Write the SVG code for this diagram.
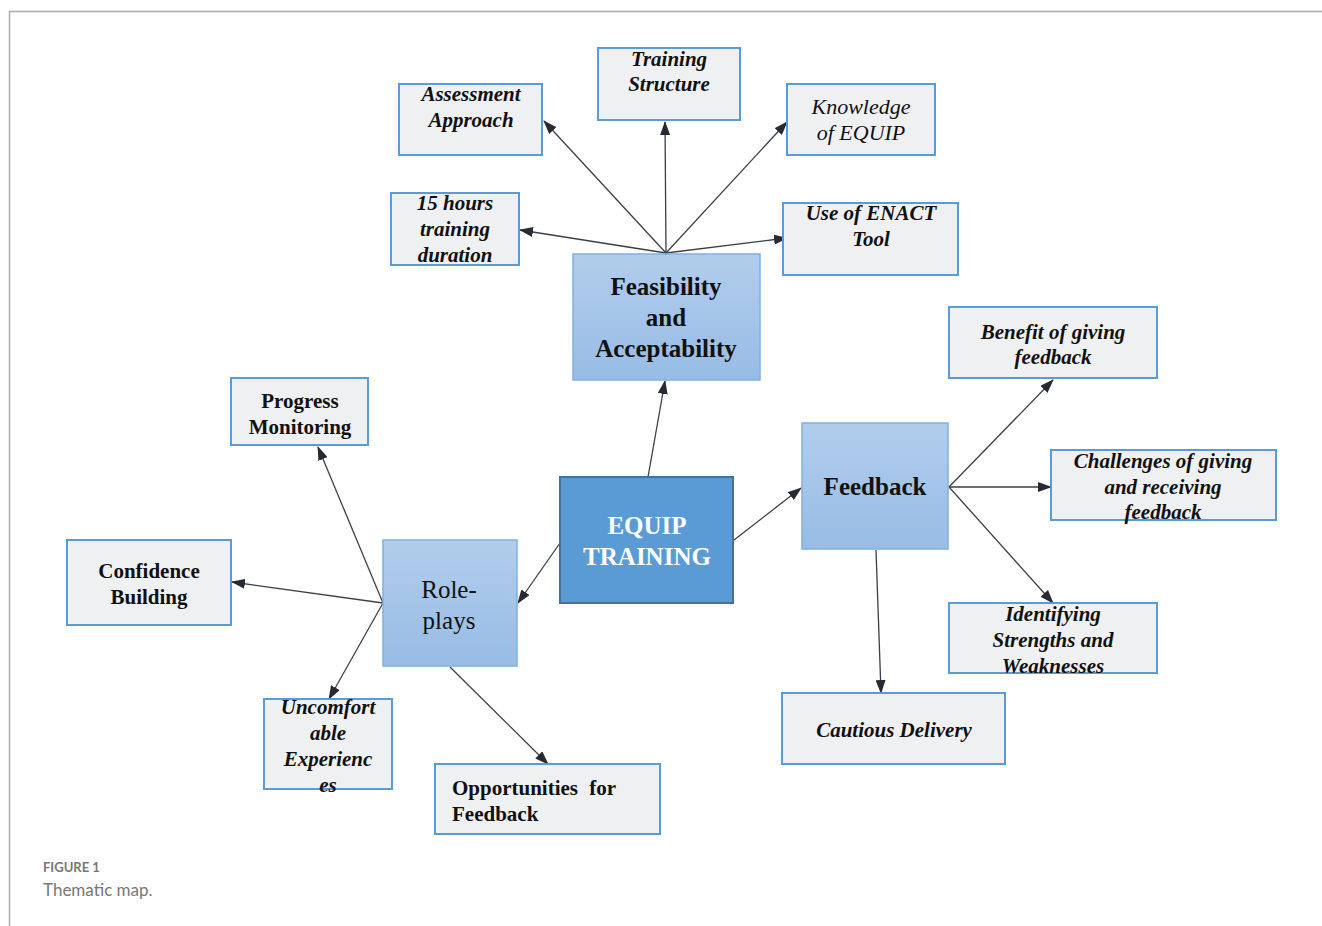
<svg xmlns="http://www.w3.org/2000/svg" width="1322" height="926" viewBox="0 0 1322 926">
<defs>
<linearGradient id="g" x1="0" y1="0" x2="0" y2="1"><stop offset="0" stop-color="#b1cdec"/><stop offset="1" stop-color="#98bce5"/></linearGradient>
<marker id="ah" viewBox="0 0 14 10" refX="13" refY="5" markerWidth="14" markerHeight="10" markerUnits="userSpaceOnUse" orient="auto"><path d="M0,0 L14,5 L0,10 z" fill="#262b33"/></marker>
<style>
.leaf{fill:#eff0f2;stroke:#5b9bd5;stroke-width:2}
.mid{fill:url(#g);stroke:#7fb0e0;stroke-width:1.5}
.t{font-family:"Liberation Serif",serif;font-size:21px;fill:#111;text-anchor:middle}
.bi{font-weight:bold;font-style:italic}
.b{font-weight:bold}
.i{font-style:italic;font-size:22px}
.big{font-size:25px}
.c line{stroke:#3a3f46;stroke-width:1.3;marker-end:url(#ah)}
.cap{font-family:Lato,"Open Sans",sans-serif;fill:#777}
</style>
</defs>
<rect width="1322" height="926" fill="#fff"/>
<path d="M9.5,926 V11.5 H1322" fill="none" stroke="#aaa" stroke-width="1.5"/>
<g class="c" id="connectors">
<line x1="666" y1="253" x2="544" y2="121"/>
<line x1="666" y1="253" x2="665" y2="122"/>
<line x1="666" y1="253" x2="787" y2="122"/>
<line x1="666" y1="253" x2="520" y2="230"/>
<line x1="666" y1="253" x2="787" y2="238"/>
<line x1="648" y1="477" x2="665" y2="381"/>
<line x1="734" y1="540" x2="801" y2="488"/>
<line x1="560" y1="543" x2="518" y2="603"/>
<line x1="949" y1="487" x2="1053" y2="380"/>
<line x1="949" y1="487" x2="1051" y2="487"/>
<line x1="949" y1="487" x2="1053" y2="603"/>
<line x1="876" y1="550" x2="881" y2="693"/>
<line x1="383" y1="603" x2="318" y2="447"/>
<line x1="383" y1="603" x2="232" y2="582"/>
<line x1="383" y1="603" x2="329" y2="699"/>
<line x1="450" y1="667" x2="548" y2="764"/>
</g>
<g id="assessment"><rect class="leaf" x="399" y="84" width="143" height="71"/><text class="t bi" x="471" y="101">Assessment</text><text class="t bi" x="471" y="127">Approach</text></g>
<g id="training-structure"><rect class="leaf" x="598" y="48" width="142" height="72"/><text class="t bi" x="669" y="66">Training</text><text class="t bi" x="669" y="91">Structure</text></g>
<g id="knowledge"><rect class="leaf" x="787" y="84" width="148" height="71"/><text class="t i" x="861" y="114">Knowledge</text><text class="t i" x="861" y="140">of EQUIP</text></g>
<g id="hours"><rect class="leaf" x="391" y="193" width="128" height="72"/><text class="t bi" x="455" y="210">15 hours</text><text class="t bi" x="455" y="236">training</text><text class="t bi" x="455" y="262">duration</text></g>
<g id="enact"><rect class="leaf" x="783" y="203" width="175" height="72"/><text class="t bi" x="871" y="220">Use of ENACT</text><text class="t bi" x="871" y="246">Tool</text></g>
<g id="feasibility"><rect class="mid" x="573" y="254" width="187" height="126"/><text class="t b big" x="666" y="295">Feasibility</text><text class="t b big" x="666" y="326">and</text><text class="t b big" x="666" y="357">Acceptability</text></g>
<g id="equip"><rect x="560" y="477" width="173" height="126" fill="#5b9bd5" stroke="#41719c" stroke-width="2"/><text class="t b big" x="647" y="534" style="fill:#fff">EQUIP</text><text class="t b big" x="647" y="565" style="fill:#fff">TRAINING</text></g>
<g id="feedback"><rect class="mid" x="802" y="423" width="146" height="126"/><text class="t b big" x="875" y="495">Feedback</text></g>
<g id="roleplays"><rect class="mid" x="383" y="540" width="134" height="126"/><text class="t big" x="449" y="598">Role-</text><text class="t big" x="449" y="629">plays</text></g>
<g id="progress"><rect class="leaf" x="231" y="378" width="137" height="67"/><text class="t b" x="300" y="408">Progress</text><text class="t b" x="300" y="434">Monitoring</text></g>
<g id="confidence"><rect class="leaf" x="67" y="540" width="164" height="85"/><text class="t b" x="149" y="578">Confidence</text><text class="t b" x="149" y="604">Building</text></g>
<g id="uncomfortable"><rect class="leaf" x="264" y="699" width="128" height="90"/><text class="t bi" x="328" y="714">Uncomfort</text><text class="t bi" x="328" y="740">able</text><text class="t bi" x="328" y="766">Experienc</text><text class="t bi" x="328" y="792">es</text></g>
<g id="opportunities"><rect class="leaf" x="435" y="764" width="225" height="70"/><text class="t b" x="452" y="795" style="text-anchor:start" word-spacing="6">Opportunities for</text><text class="t b" x="452" y="821" style="text-anchor:start">Feedback</text></g>
<g id="benefit"><rect class="leaf" x="949" y="307" width="208" height="71"/><text class="t bi" x="1053" y="339">Benefit of giving</text><text class="t bi" x="1053" y="364">feedback</text></g>
<g id="challenges"><rect class="leaf" x="1051" y="450" width="225" height="70"/><text class="t bi" x="1163" y="468">Challenges of giving</text><text class="t bi" x="1163" y="494">and receiving</text><text class="t bi" x="1163" y="519">feedback</text></g>
<g id="identifying"><rect class="leaf" x="949" y="603" width="208" height="70"/><text class="t bi" x="1053" y="621">Identifying</text><text class="t bi" x="1053" y="647">Strengths and</text><text class="t bi" x="1053" y="673">Weaknesses</text></g>
<g id="cautious"><rect class="leaf" x="782" y="693" width="223" height="71"/><text class="t bi" x="894" y="737">Cautious Delivery</text></g>
<text class="cap" x="43" y="872" font-size="13" font-weight="bold">FIGURE 1</text>
<text class="cap" x="43" y="896" font-size="17">Thematic map.</text>
</svg>
